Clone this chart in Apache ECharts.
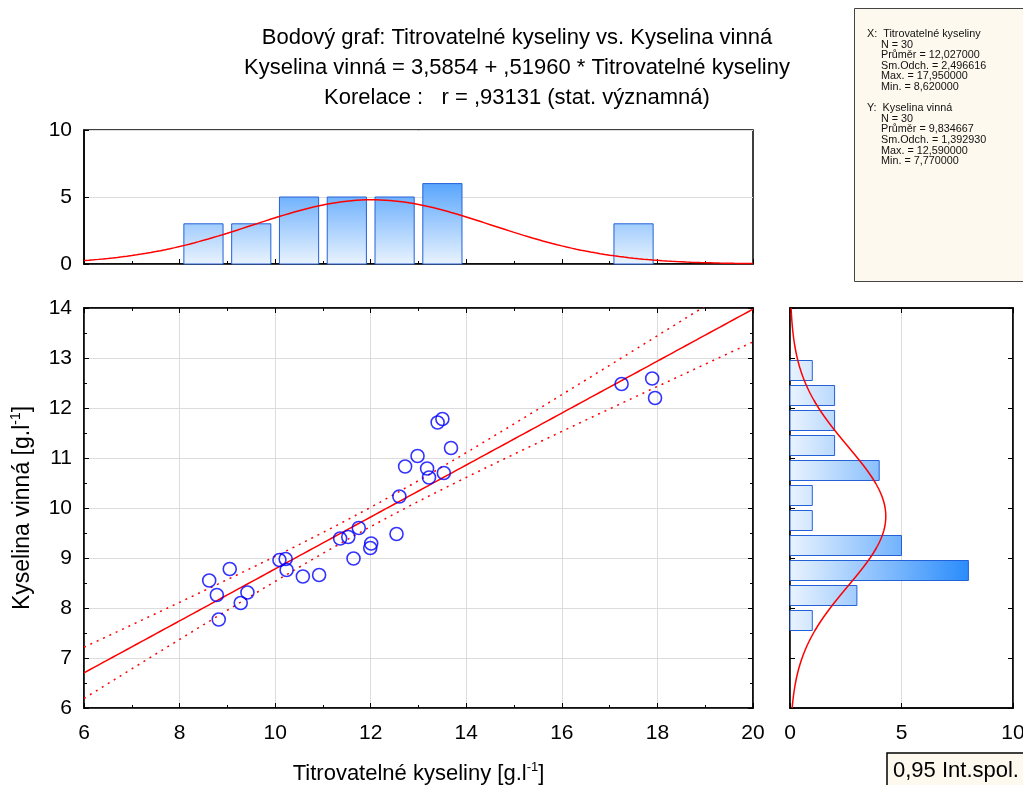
<!DOCTYPE html>
<html>
<head>
<meta charset="utf-8">
<script src="https://cdn.jsdelivr.net/npm/echarts@6/dist/echarts.min.js"></script>
<style>
  html, body { margin: 0; padding: 0; background: #ffffff; overflow: hidden; }
  #chart { width: 1023px; height: 785px; }
</style>
</head>
<body>
<div id="chart"></div>
<script>
// Titrovatelné kyseliny (x) and Kyselina vinná (y) for 30 samples
const titrKys = [8.62, 8.78, 9.05, 8.82, 9.28, 9.42, 10.09, 10.22, 10.24, 10.58,
                 10.92, 11.36, 11.53, 11.75, 11.64, 12.01, 11.99, 12.54, 12.60, 12.72,
                 12.98, 13.18, 13.22, 13.40, 13.50, 13.53, 13.68, 17.25, 17.89, 17.95];
const kysVinna = [8.55, 8.26, 8.78, 7.77, 8.10, 8.31, 8.96, 8.98, 8.76, 8.63,
                  8.66, 9.39, 9.42, 9.60, 8.99, 9.29, 9.20, 9.48, 10.23, 10.83,
                  11.04, 10.79, 10.61, 11.71, 11.78, 10.70, 11.20, 12.48, 12.59, 12.20];

// histogram of x (bin width 1)
const xBinStart = [8, 9, 10, 11, 12, 13, 17];
const xBinCount = [3, 3, 5, 5, 5, 6, 3];
const xBinWidth = 1;
// histogram of y (bin width 0.5)
const yBinStart = [7.5, 8, 8.5, 9, 9.5, 10, 10.5, 11, 11.5, 12, 12.5];
const yBinCount = [1, 3, 8, 5, 1, 1, 4, 2, 2, 2, 1];
const yBinWidth = 0.5;

// regression and descriptive statistics
const nObs = 30;
const intercept = 3.5854;
const slope = 0.51960;
const corrR = 0.93131;
const meanX = 12.027, sdX = 2.496616, maxX = 17.95, minX = 8.62;
const meanY = 9.834667, sdY = 1.392930, maxY = 12.59, minY = 7.77;
const tCrit = 2.0484; // t(0.975, 28)

const FONT = '"Liberation Sans", Arial, sans-serif';
const fmt = (v, d) => v.toFixed(d).replace('.', ',');

// fitted line, 0.95 confidence band and normal curves
const sRes = sdY * Math.sqrt(1 - corrR * corrR) * Math.sqrt((nObs - 1) / (nObs - 2));
const sxx = (nObs - 1) * sdX * sdX;
const fitLine = [], bandUp = [], bandLo = [];
for (let x = 6; x <= 20.0001; x += 0.1) {
  const yh = intercept + slope * x;
  const h = tCrit * sRes * Math.sqrt(1 / nObs + (x - meanX) * (x - meanX) / sxx);
  fitLine.push([x, yh]);
  bandUp.push([x, yh + h]);
  bandLo.push([x, yh - h]);
}
const pdf = (v, m, s) => Math.exp(-0.5 * ((v - m) / s) ** 2) / (s * Math.sqrt(2 * Math.PI));
const normX = [], normY = [];
for (let x = 6; x <= 20.0001; x += 0.1) normX.push([x, nObs * xBinWidth * pdf(x, meanX, sdX)]);
for (let y = 6; y <= 14.0001; y += 0.05) normY.push([nObs * yBinWidth * pdf(y, meanY, sdY), y]);

const barStops = [{ offset: 0, color: '#e9f3fe' }, { offset: 1, color: '#2a8cfc' }];
const barStroke = '#2461d8';

function vBar(params, api) {
  const lo = api.value(0), hi = api.value(1), c = api.value(2);
  const inset = 0.09 * (hi - lo);
  const p0 = api.coord([lo + inset, 0]);
  const p1 = api.coord([hi - inset, c]);
  const g8 = api.coord([lo, 8]);
  return {
    type: 'rect',
    shape: { x: p0[0], y: p1[1], width: p1[0] - p0[0], height: p0[1] - p1[1] },
    style: {
      fill: { type: 'linear', x: 0, y: p0[1], x2: 0, y2: g8[1], global: true, colorStops: barStops },
      stroke: barStroke, lineWidth: 1
    }
  };
}
function hBar(params, api) {
  const lo = api.value(0), hi = api.value(1), c = api.value(2);
  const inset = 0.1 * (hi - lo);
  const p0 = api.coord([0, hi - inset]);
  const p1 = api.coord([c, lo + inset]);
  const g8 = api.coord([8, lo]);
  return {
    type: 'rect',
    shape: { x: p0[0], y: p0[1], width: p1[0] - p0[0], height: p1[1] - p0[1] },
    style: {
      fill: { type: 'linear', x: p0[0], y: 0, x2: g8[0], y2: 0, global: true, colorStops: barStops },
      stroke: barStroke, lineWidth: 1
    }
  };
}

const tickIn = { show: true, inside: true, length: 5, lineStyle: { color: '#000', width: 1 } };
const minorIn = { show: true, splitNumber: 2, length: 3, lineStyle: { color: '#000', width: 1 } };
const frameLine = { show: true, onZero: false, lineStyle: { color: '#000', width: 1.5 } };
const gridLine = { show: true, lineStyle: { color: '#dcdcdc', width: 1 } };
const lbl = { color: '#000', fontSize: 21, fontFamily: FONT };
const supRich = (size) => ({
  sup: { fontSize: Math.round(size * 0.6), fontFamily: FONT, color: '#000', verticalAlign: 'top', lineHeight: size + 4 }
});

const statLines = [
  ['X:  Titrovatelné kyseliny', 0],
  ['N = ' + nObs, 1],
  ['Průměr = ' + fmt(meanX, 6), 1],
  ['Sm.Odch. = ' + fmt(sdX, 6), 1],
  ['Max. = ' + fmt(maxX, 6), 1],
  ['Min. = ' + fmt(minX, 6), 1],
  ['', 0],
  ['Y:  Kyselina vinná', 0],
  ['N = ' + nObs, 1],
  ['Průměr = ' + fmt(meanY, 6), 1],
  ['Sm.Odch. = ' + fmt(sdY, 6), 1],
  ['Max. = ' + fmt(maxY, 6), 1],
  ['Min. = ' + fmt(minY, 6), 1]
];
const statGraphics = [];
statLines.forEach((l, idx) => {
  if (!l[0]) return;
  statGraphics.push({
    type: 'text', x: l[1] ? 881 : 867, y: 34 + idx * 10.6,
    style: { text: l[0], font: '10.8px ' + FONT, fill: '#111', textVerticalAlign: 'middle' }
  });
});

const titleLines = [
  'Bodový graf: Titrovatelné kyseliny vs. Kyselina vinná',
  'Kyselina vinná = ' + fmt(intercept, 4) + ' + ' + fmt(slope, 5).replace(/^0/, '') + ' * Titrovatelné kyseliny',
  'Korelace :   r = ' + fmt(corrR, 5).replace(/^0/, '') + ' (stat. významná)'
];

const gridBase = { show: true, borderColor: '#000', borderWidth: 1.5, containLabel: false, outerBoundsMode: 'none' };

const option = {
  animation: false,
  backgroundColor: '#ffffff',
  grid: [
    Object.assign({ left: 84, top: 130, width: 669, height: 134 }, gridBase),
    Object.assign({ left: 84, top: 308, width: 669, height: 400 }, gridBase),
    Object.assign({ left: 790, top: 308, width: 223, height: 400 }, gridBase)
  ],
  xAxis: [
    { gridIndex: 0, type: 'value', min: 6, max: 20, interval: 2, axisLabel: { show: false },
      axisLine: frameLine, axisTick: tickIn, minorTick: minorIn, splitLine: { show: false } },
    { gridIndex: 1, type: 'value', min: 6, max: 20, interval: 2,
      axisLabel: Object.assign({ margin: 15 }, lbl),
      axisLine: frameLine, axisTick: tickIn, minorTick: minorIn, splitLine: gridLine,
      name: 'Titrovatelné kyseliny [g.l{sup|-1}]', nameLocation: 'middle', nameGap: 53,
      nameTextStyle: { color: '#000', fontSize: 22, fontFamily: FONT, lineHeight: 26, rich: supRich(22) } },
    { gridIndex: 1, type: 'value', position: 'top', min: 6, max: 20, interval: 2,
      axisLabel: { show: false }, axisLine: frameLine, axisTick: tickIn, minorTick: minorIn, splitLine: { show: false } },
    { gridIndex: 2, type: 'value', min: 0, max: 10, interval: 5,
      axisLabel: Object.assign({ margin: 15 }, lbl),
      axisLine: frameLine, axisTick: tickIn, splitLine: gridLine },
    { gridIndex: 2, type: 'value', position: 'top', min: 0, max: 10, interval: 5,
      axisLabel: { show: false }, axisLine: frameLine, axisTick: tickIn, splitLine: { show: false } }
  ],
  yAxis: [
    { gridIndex: 0, type: 'value', min: 0, max: 10, interval: 5,
      axisLabel: Object.assign({ margin: 12 }, lbl),
      axisLine: frameLine, axisTick: tickIn, splitLine: gridLine },
    { gridIndex: 1, type: 'value', min: 6, max: 14, interval: 1,
      axisLabel: Object.assign({ margin: 12 }, lbl),
      axisLine: frameLine, axisTick: tickIn, minorTick: minorIn, splitLine: gridLine,
      name: 'Kyselina vinná [g.l{sup|-1}]', nameLocation: 'middle', nameGap: 48, nameRotate: 90,
      nameTextStyle: { color: '#000', fontSize: 23, fontFamily: FONT, lineHeight: 27, rich: supRich(23) } },
    { gridIndex: 1, type: 'value', position: 'right', min: 6, max: 14, interval: 1,
      axisLabel: { show: false }, axisLine: frameLine, axisTick: tickIn, minorTick: minorIn, splitLine: { show: false } },
    { gridIndex: 2, type: 'value', min: 6, max: 14, interval: 1,
      axisLabel: { show: false }, axisLine: frameLine, axisTick: tickIn, splitLine: { show: false } },
    { gridIndex: 2, type: 'value', position: 'right', min: 6, max: 14, interval: 1,
      axisLabel: { show: false }, axisLine: frameLine, axisTick: tickIn, splitLine: { show: false } }
  ],
  series: [
    { type: 'custom', xAxisIndex: 0, yAxisIndex: 0, renderItem: vBar,
      encode: { x: [0, 1], y: 2 },
      data: xBinStart.map((s, i) => [s, s + xBinWidth, xBinCount[i]]), z: 2 },
    { type: 'line', xAxisIndex: 0, yAxisIndex: 0, data: normX, showSymbol: false,
      lineStyle: { color: '#ff0000', width: 1.5 }, z: 3 },
    { type: 'custom', xAxisIndex: 3, yAxisIndex: 3, renderItem: hBar,
      encode: { x: 2, y: [0, 1] },
      data: yBinStart.map((s, i) => [s, s + yBinWidth, yBinCount[i]]), z: 2 },
    { type: 'line', xAxisIndex: 3, yAxisIndex: 3, data: normY, showSymbol: false,
      lineStyle: { color: '#ff0000', width: 1.5 }, z: 3 },
    { type: 'line', xAxisIndex: 1, yAxisIndex: 1, data: fitLine, showSymbol: false,
      lineStyle: { color: '#ff0000', width: 1.5 }, z: 3 },
    { type: 'line', xAxisIndex: 1, yAxisIndex: 1, data: bandUp, showSymbol: false,
      lineStyle: { color: '#ff0000', width: 1.5, type: [2, 5] }, z: 3 },
    { type: 'line', xAxisIndex: 1, yAxisIndex: 1, data: bandLo, showSymbol: false,
      lineStyle: { color: '#ff0000', width: 1.5, type: [2, 5] }, z: 3 },
    { type: 'scatter', xAxisIndex: 1, yAxisIndex: 1,
      data: titrKys.map((x, i) => [x, kysVinna[i]]),
      symbol: 'circle', symbolSize: 13,
      itemStyle: { color: 'rgba(0,0,0,0)', borderColor: '#0000ff', borderWidth: 1.6 }, z: 4 }
  ],
  graphic: [
    ...titleLines.map((t, i) => ({
      type: 'text', x: 517, y: 38 + i * 30,
      style: { text: t, font: '22px ' + FONT, fill: '#000', textAlign: 'center', textVerticalAlign: 'middle' }
    })),
    { type: 'rect', shape: { x: 854.5, y: 8.5, width: 200, height: 273 },
      style: { fill: '#fdf9ee', stroke: '#444', lineWidth: 1 } },
    ...statGraphics,
    { type: 'rect', shape: { x: 887, y: 753, width: 160, height: 40 },
      style: { fill: '#fdf9ee', stroke: '#000', lineWidth: 1.5 } },
    { type: 'text', x: 893, y: 771,
      style: { text: '0,95 Int.spol.', font: '22px ' + FONT, fill: '#000', textVerticalAlign: 'middle' } }
  ]
};

const chart = echarts.init(document.getElementById('chart'), null, { renderer: 'canvas' });
chart.setOption(option);
</script>
</body>
</html>
